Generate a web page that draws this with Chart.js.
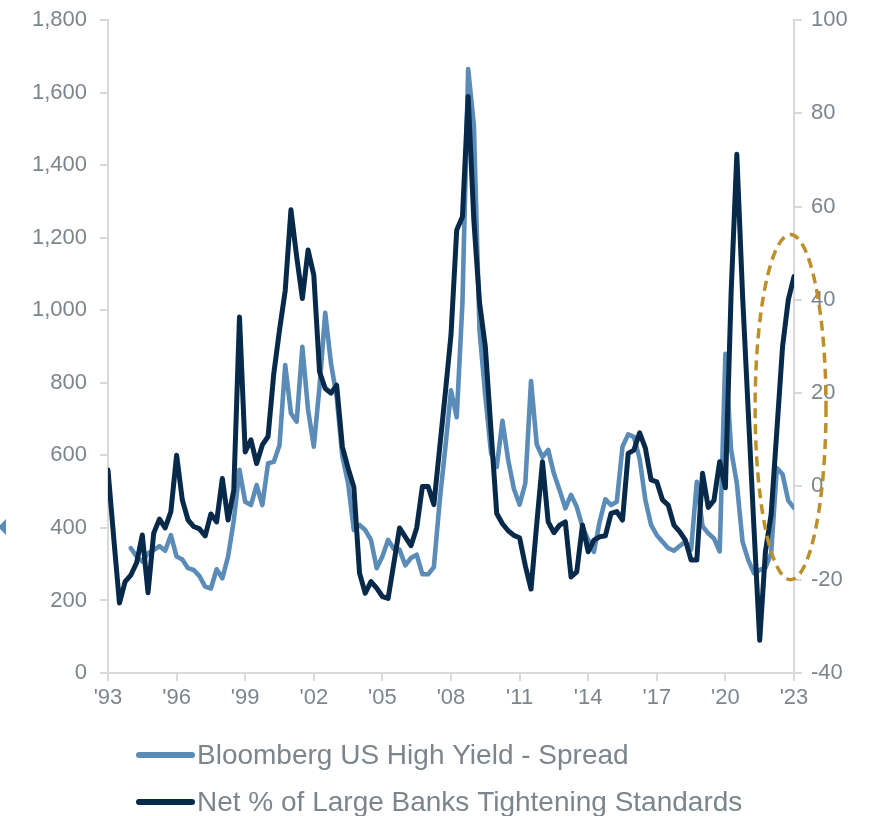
<!DOCTYPE html>
<html>
<head>
<meta charset="utf-8">
<script src="https://cdn.jsdelivr.net/npm/chart.js@4.4.1/dist/chart.umd.min.js"></script>
<style>
  html, body { margin: 0; padding: 0; background: #ffffff; }
  #wrap { position: relative; width: 872px; height: 816px; }
</style>
</head>
<body>
<div id="wrap"><canvas id="chart" width="872" height="816"></canvas></div>
<script>
// Quarterly observations, Q1 1993 through Q1 2023
const FIRST_YEAR = 1993;
const LAST_YEAR = 2023;
const quarters = [];
for (let y = FIRST_YEAR; y <= LAST_YEAR; y++) {
  for (let q = 0; q < 4; q++) {
    if (y === LAST_YEAR && q > 0) break;
    quarters.push(y + q / 4);
  }
}

// Bloomberg US High Yield option-adjusted spread (bp), left axis
const hySpread = [
  null, null, null, null,          // 1993
  344, 321, 307, 330,              // 1994
  339, 350, 337, 380,              // 1995
  321, 313, 289, 284,              // 1996
  267, 238, 233, 286,              // 1997
  261, 321, 420, 560,              // 1998
  472, 463, 518, 463,              // 1999
  578, 582, 628, 849,              // 2000
  716, 693, 899, 725,              // 2001
  624, 789, 993, 854,              // 2002
  762, 596, 523, 394,              // 2003
  408, 394, 367, 289,              // 2004
  321, 367, 342, 340,              // 2005
  297, 317, 326, 272,              // 2006
  272, 292, 470, 620,              // 2007
  779, 705, 1020, 1665,            // 2008
  1510, 942, 764, 607,             // 2009
  568, 695, 587, 508,              // 2010
  464, 523, 805, 630,              // 2011
  595, 615, 550, 504,              // 2012
  454, 491, 458, 403,              // 2013
  367, 334, 417, 479,              // 2014
  463, 472, 624, 658,              // 2015
  651, 590, 477, 408,              // 2016
  380, 362, 344, 337,              // 2017
  350, 362, 340, 527,              // 2018
  405, 385, 371, 335,              // 2019
  880, 615, 523, 362,              // 2020
  311, 275, 284, 290,              // 2021
  330, 565, 548, 475,              // 2022
  455                              // 2023
];

// Net % of large banks tightening C&I lending standards, right axis
const bankTightening = [
  3.5, -11, -25, -20.4,            // 1993
  -19, -16.4, -10.4, -22.8,        // 1994
  -10, -7, -8.9, -5.4,             // 1995
  6.7, -2.9, -7.2, -8.6,           // 1996
  -9.1, -10.6, -5.9, -7.6,         // 1997
  1.7, -7.2, -0.8, 36.3,           // 1998
  7.4, 10, 4.9, 8.9,               // 1999
  10.7, 24.2, 33.5, 42,            // 2000
  59.3, 49.3, 40.3, 50.7,          // 2001
  45.3, 24.6, 21, 20,              // 2002
  21.7, 8.5, 3.9, -0.1,            // 2003
  -18.6, -22.9, -20.4, -21.8,      // 2004
  -23.6, -24, -16.5, -8.9,         // 2005
  -10.8, -12.7, -8.9, 0,           // 2006
  0, -3.9, 8, 20,                  // 2007
  32.5, 55, 57.8, 83.6,            // 2008
  57, 39.3, 30, 12,                // 2009
  -5.8, -8, -9.5, -10.5,           // 2010
  -11, -17, -22, -8,               // 2011
  5.3, -7.6, -9.9, -8.3,           // 2012
  -7.6, -19.4, -18.3, -8.3,        // 2013
  -14, -11.5, -10.8, -10.6,        // 2014
  -5.8, -5.4, -7.2, 7.1,           // 2015
  7.8, 11.5, 8.2, 1.4,             // 2016
  1, -2.9, -4, -8.3,               // 2017
  -9.7, -11.5, -15.8, -15.8,       // 2018
  2.8, -4.5, -3, 5.3,              // 2019
  -0.3, 41.5, 71.2, 41,            // 2020
  16, -9, -33, -14,                // 2021
  -6, 12, 30, 40,                  // 2022
  45                               // 2023
];

const seriesNames = [
  'Bloomberg US High Yield - Spread',
  'Net % of Large Banks Tightening Standards'
];
const seriesColors = ['#5B8CB8', '#07294A'];

// Dashed ring around the latest tightening readings (x in years, y on right axis)
const highlight = { xFrom: 2021.3, xTo: 2024.4, yFrom: -20, yTo: 54 };

const FONT = "'Liberation Sans', Arial, sans-serif";
const TEXT_GREY = '#7d858c';
const AXIS_GREY = '#d9d9d9';

const toPoints = (vals) => vals.map((v, i) => ({ x: quarters[i], y: v }));

const overlay = {
  id: 'overlay',
  afterDraw(chart) {
    const ctx = chart.ctx;
    const xs = chart.scales.x;
    const yr = chart.scales.yRight;

    // highlight ring
    const x1 = xs.getPixelForValue(highlight.xFrom);
    const x2 = xs.getPixelForValue(highlight.xTo);
    const y1 = yr.getPixelForValue(highlight.yTo);
    const y2 = yr.getPixelForValue(highlight.yFrom);
    ctx.save();
    ctx.setLineDash([10, 6]);
    ctx.lineWidth = 3.5;
    ctx.strokeStyle = '#BD8F2B';
    ctx.beginPath();
    ctx.ellipse((x1 + x2) / 2, (y1 + y2) / 2, (x2 - x1) / 2, (y2 - y1) / 2, 0, 0, Math.PI * 2);
    ctx.stroke();
    ctx.restore();

    // small marker at the left edge
    ctx.save();
    ctx.fillStyle = seriesColors[0];
    ctx.beginPath();
    ctx.moveTo(-2, 527);
    ctx.lineTo(6, 519);
    ctx.lineTo(6, 535);
    ctx.closePath();
    ctx.fill();
    ctx.restore();

    // legend, one series per row
    const rows = [755, 802];
    ctx.save();
    ctx.font = '28px ' + FONT;
    ctx.textBaseline = 'middle';
    ctx.textAlign = 'left';
    seriesNames.forEach((name, i) => {
      ctx.strokeStyle = seriesColors[i];
      ctx.lineWidth = 6;
      ctx.lineCap = 'round';
      ctx.beginPath();
      ctx.moveTo(139, rows[i]);
      ctx.lineTo(192, rows[i]);
      ctx.stroke();
      ctx.fillStyle = TEXT_GREY;
      ctx.fillText(name, 197, rows[i] + 1);
    });
    ctx.restore();
  }
};

const axisGrid = {
  display: true,
  drawOnChartArea: false,
  drawTicks: true,
  tickLength: 8,
  color: AXIS_GREY,
  lineWidth: 2
};
const axisBorder = { display: true, color: AXIS_GREY, width: 2 };

// fixed axis widths; the outer padding alone decides where the plot starts
const fitVertical = (width) => (s) => {
  s.width = width;
  s.paddingTop = 0;
  s.paddingBottom = 0;
};

new Chart(document.getElementById('chart'), {
  type: 'line',
  data: {
    datasets: [
      {
        label: seriesNames[0],
        data: toPoints(hySpread),
        yAxisID: 'yLeft',
        borderColor: seriesColors[0],
        borderWidth: 4.6,
        order: 1
      },
      {
        label: seriesNames[1],
        data: toPoints(bankTightening),
        yAxisID: 'yRight',
        borderColor: seriesColors[1],
        borderWidth: 5,
        order: 0
      }
    ]
  },
  options: {
    responsive: false,
    animation: false,
    layout: { padding: { top: 20, left: 0, right: 0, bottom: 0 } },
    elements: {
      point: { radius: 0, hoverRadius: 0 },
      line: { tension: 0, borderJoinStyle: 'round', borderCapStyle: 'round', fill: false }
    },
    plugins: {
      legend: { display: false },
      tooltip: { enabled: false }
    },
    scales: {
      x: {
        type: 'linear',
        min: FIRST_YEAR,
        max: LAST_YEAR,
        grid: axisGrid,
        border: axisBorder,
        ticks: {
          stepSize: 3,
          padding: 4,
          color: TEXT_GREY,
          font: { family: FONT, size: 22 },
          maxRotation: 0,
          autoSkip: false,
          callback: (v) => "'" + String(Math.round(v)).slice(2)
        },
        afterFit: (s) => { s.height = 143; s.paddingLeft = 0; s.paddingRight = 0; }
      },
      yLeft: {
        position: 'left',
        min: 0,
        max: 1800,
        grid: axisGrid,
        border: axisBorder,
        ticks: {
          stepSize: 200,
          padding: 13,
          color: TEXT_GREY,
          font: { family: FONT, size: 22 },
          callback: (v) => v.toLocaleString('en-US')
        },
        afterFit: fitVertical(108)
      },
      yRight: {
        position: 'right',
        min: -40,
        max: 100,
        grid: axisGrid,
        border: axisBorder,
        ticks: {
          stepSize: 20,
          padding: 9,
          color: TEXT_GREY,
          font: { family: FONT, size: 22 }
        },
        afterFit: fitVertical(78)
      }
    }
  },
  plugins: [overlay]
});
</script>
</body>
</html>
